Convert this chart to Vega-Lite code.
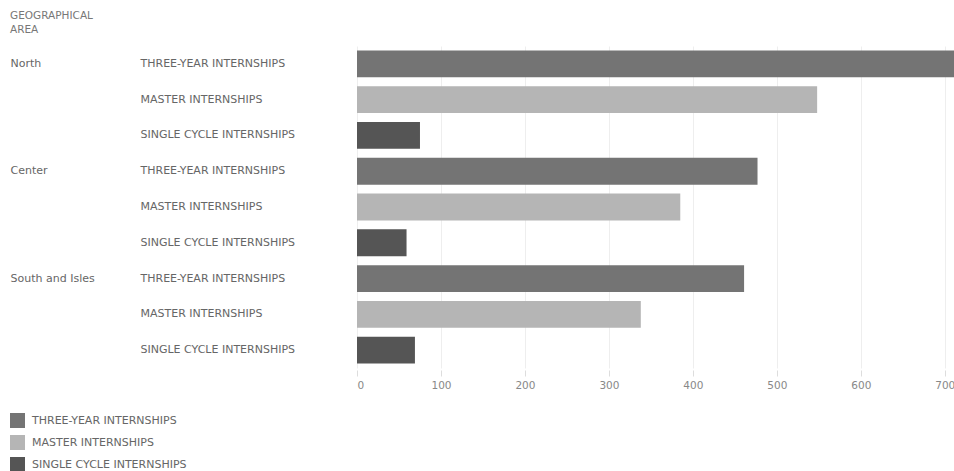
{
  "$schema": "https://vega.github.io/schema/vega-lite/v6.json",
  "width": 597,
  "height": 322,
  "autosize": {"type": "pad"},
  "padding": {"left": 10, "top": 10, "right": 0, "bottom": 0},
  "background": "white",
  "title": {
    "text": ["GEOGRAPHICAL", "AREA"],
    "anchor": "start",
    "frame": "bounds",
    "font": "DejaVu Sans",
    "fontSize": 10.5,
    "fontWeight": "normal",
    "color": "#777777",
    "lineHeight": 14,
    "offset": 11
  },
  "data": {
    "values": [
      {"key": "North - THREE-YEAR INTERNSHIPS", "area": "North", "type": "THREE-YEAR INTERNSHIPS", "value": 760},
      {"key": "North - MASTER INTERNSHIPS", "area": "North", "type": "MASTER INTERNSHIPS", "value": 548},
      {"key": "North - SINGLE CYCLE INTERNSHIPS", "area": "North", "type": "SINGLE CYCLE INTERNSHIPS", "value": 75},
      {"key": "Center - THREE-YEAR INTERNSHIPS", "area": "Center", "type": "THREE-YEAR INTERNSHIPS", "value": 477},
      {"key": "Center - MASTER INTERNSHIPS", "area": "Center", "type": "MASTER INTERNSHIPS", "value": 385},
      {"key": "Center - SINGLE CYCLE INTERNSHIPS", "area": "Center", "type": "SINGLE CYCLE INTERNSHIPS", "value": 59},
      {"key": "South and Isles - THREE-YEAR INTERNSHIPS", "area": "South and Isles", "type": "THREE-YEAR INTERNSHIPS", "value": 461},
      {"key": "South and Isles - MASTER INTERNSHIPS", "area": "South and Isles", "type": "MASTER INTERNSHIPS", "value": 338},
      {"key": "South and Isles - SINGLE CYCLE INTERNSHIPS", "area": "South and Isles", "type": "SINGLE CYCLE INTERNSHIPS", "value": 69}
    ]
  },
  "layer": [
    {
      "mark": {"type": "bar", "clip": true},
      "encoding": {
        "y": {
          "field": "key",
          "type": "nominal",
          "sort": null,
          "scale": {"paddingInner": 0.25, "paddingOuter": 0.125},
          "axis": {
            "title": null,
            "orient": "left",
            "ticks": false,
            "tickSize": 0,
            "domain": false,
            "labelAlign": "left",
            "labelPadding": 217,
            "labelExpr": "split(datum.label, ' - ')[1]",
            "labelFont": "DejaVu Sans",
            "labelFontSize": 11,
            "labelColor": "#666666"
          }
        },
        "x": {
          "field": "value",
          "type": "quantitative",
          "scale": {"domain": [0, 711], "nice": false},
          "axis": {
            "title": null,
            "values": [0, 100, 200, 300, 400, 500, 600, 700],
            "domain": false,
            "ticks": true,
            "tickSize": 6,
            "tickColor": "#dddddd",
            "offset": 2,
            "grid": true,
            "gridColor": "#eeeeee",
            "labelFont": "DejaVu Sans",
            "labelFontSize": 10.5,
            "labelColor": "#888888",
            "labelPadding": 4
          }
        },
        "color": {
          "field": "type",
          "type": "nominal",
          "scale": {
            "domain": ["THREE-YEAR INTERNSHIPS", "MASTER INTERNSHIPS", "SINGLE CYCLE INTERNSHIPS"],
            "range": ["#747474", "#b5b5b5", "#555555"]
          },
          "legend": {
            "title": null,
            "orient": "none",
            "legendX": -347,
            "legendY": 367,
            "direction": "vertical",
            "symbolType": "square",
            "symbolSize": 225,
            "symbolStrokeWidth": 0,
            "rowPadding": 7,
            "labelOffset": 7,
            "labelFont": "DejaVu Sans",
            "labelFontSize": 11,
            "labelColor": "#666666"
          }
        }
      }
    },
    {
      "mark": {"type": "bar", "clip": true, "opacity": 0},
      "encoding": {
        "y": {
          "field": "key",
          "type": "nominal",
          "sort": null,
          "scale": {"paddingInner": 0.25, "paddingOuter": 0.125},
          "axis": {
            "title": null,
            "orient": "left",
            "ticks": false,
            "tickSize": 0,
            "domain": false,
            "grid": false,
            "labelAlign": "left",
            "labelPadding": 347,
            "labelExpr": "indexof(datum.label, 'THREE-YEAR') >= 0 ? split(datum.label, ' - ')[0] : ''",
            "labelFont": "DejaVu Sans",
            "labelFontSize": 11,
            "labelColor": "#666666"
          }
        },
        "x": {"field": "value", "type": "quantitative"}
      }
    }
  ],
  "resolve": {"scale": {"y": "independent"}},
  "config": {"view": {"stroke": null}}
}
